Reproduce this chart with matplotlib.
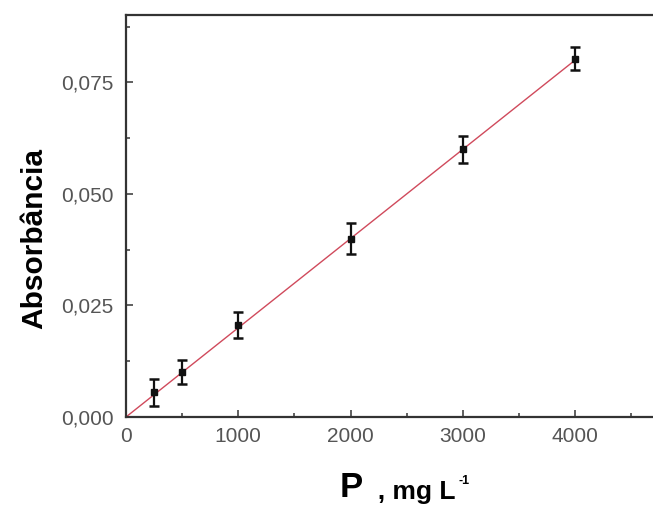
import numpy as np
import matplotlib.pyplot as plt
from matplotlib.ticker import MultipleLocator, FuncFormatter

# Curva de calibração: absorbância vs concentração de P
conc = [250, 500, 1000, 2000, 3000, 4000]
absorb = [0.0055, 0.0101, 0.0206, 0.0400, 0.0600, 0.0803]
erro = [0.0030, 0.0027, 0.0030, 0.0034, 0.0030, 0.0026]

# ajuste linear (passa pela origem)
fit_x = [0, 4000]
fit_y = [0.0, 0.0800]

plt.rcParams['font.family'] = ['Liberation Sans', 'DejaVu Sans']

fig = plt.figure(figsize=(6.53, 5.14), dpi=100)
ax = fig.add_axes([126 / 653, 1 - 417 / 514, 1 - 126 / 653 + 0.002, (417 - 15) / 514])

ax.plot(fit_x, fit_y, color='#d04a5c', lw=1.0, zorder=2)
ax.errorbar(conc, absorb, yerr=erro, fmt='s', color='#111111', ms=4.5,
            elinewidth=1.6, capsize=3.5, capthick=1.8, zorder=3)

ax.set_xlim(0, 4705)
ax.set_ylim(0, 0.0901)

ax.xaxis.set_major_locator(MultipleLocator(1000))
ax.xaxis.set_minor_locator(MultipleLocator(500))
ax.yaxis.set_major_locator(MultipleLocator(0.025))
ax.yaxis.set_minor_locator(MultipleLocator(0.0125))
ax.yaxis.set_major_formatter(FuncFormatter(lambda v, p: f'{v:.3f}'.replace('.', ',')))

ax.tick_params(which='both', direction='in', color='#444444', width=1.2,
               labelsize=15, labelcolor='#555555')
ax.tick_params(which='major', length=5)
ax.tick_params(which='minor', length=3)
ax.tick_params(axis='y', pad=9)
ax.tick_params(axis='x', pad=7)

for s in ['left', 'bottom', 'top']:
    ax.spines[s].set_linewidth(1.6)
    ax.spines[s].set_color('#333333')
ax.spines['right'].set_visible(False)

ax.set_ylabel('Absorbância', fontsize=21.5, fontweight='bold')
ax.yaxis.set_label_coords(-0.148, 0.445)

# rótulo do eixo x montado em partes: "P , mg L-1"
t1 = fig.text(340 / 653, 1 - 497 / 514, 'P', fontsize=25, fontweight='bold',
              ha='left', va='baseline')
t2 = ax.annotate('  , mg L', xy=(1, 0), xycoords=t1, xytext=(0, 0),
                 textcoords='offset points', fontsize=19, fontweight='bold',
                 va='bottom', annotation_clip=False)
ax.annotate('-1', xy=(1, 1), xycoords=t2, xytext=(2, -5),
            textcoords='offset points', fontsize=9, fontweight='bold',
            va='bottom', annotation_clip=False)

fig.savefig('out.png', dpi=100)
